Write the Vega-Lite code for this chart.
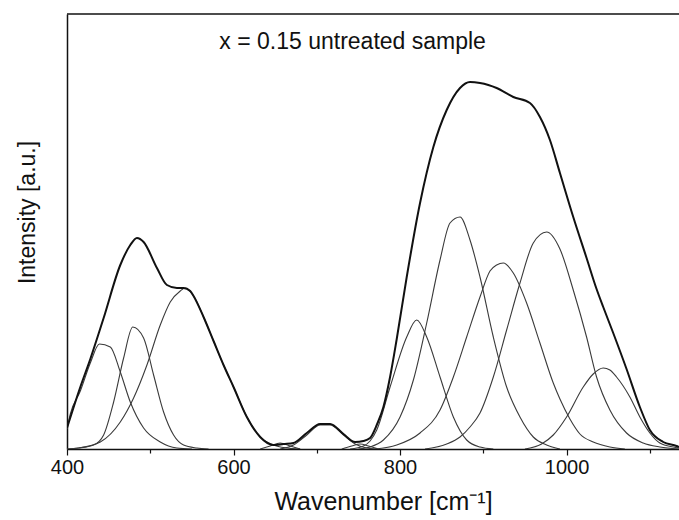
{
  "$schema": "https://vega.github.io/schema/vega-lite/v6.json",
  "autosize": "none",
  "width": 612,
  "height": 435,
  "padding": {"left": 67, "top": 14, "right": 0, "bottom": 71},
  "background": "white",
  "config": {
    "view": {"stroke": null},
    "font": "Liberation Sans"
  },
  "data": {
    "values": [
      {"s":"A","x":400,"y":20},{"s":"A","x":404,"y":35},{"s":"A","x":416,"y":58},{"s":"A","x":428,"y":86},{"s":"A","x":439,"y":105},{"s":"A","x":452,"y":102},{"s":"A","x":464,"y":77},{"s":"A","x":476,"y":47},{"s":"A","x":492,"y":21},{"s":"A","x":512,"y":7},{"s":"A","x":532,"y":1},{"s":"A","x":550,"y":0},
      {"s":"B","x":400,"y":0},{"s":"B","x":414,"y":1},{"s":"B","x":432,"y":4},{"s":"B","x":444,"y":14},{"s":"B","x":456,"y":47},{"s":"B","x":468,"y":91},{"s":"B","x":479,"y":122},{"s":"B","x":492,"y":111},{"s":"B","x":504,"y":74},{"s":"B","x":516,"y":37},{"s":"B","x":528,"y":14},{"s":"B","x":540,"y":4},{"s":"B","x":556,"y":1},{"s":"B","x":570,"y":0},
      {"s":"C","x":400,"y":0},{"s":"C","x":414,"y":1},{"s":"C","x":440,"y":7},{"s":"C","x":464,"y":27},{"s":"C","x":480,"y":51},{"s":"C","x":496,"y":84},{"s":"C","x":512,"y":124},{"s":"C","x":524,"y":147},{"s":"C","x":536,"y":158},{"s":"C","x":542,"y":161},{"s":"C","x":552,"y":153},{"s":"C","x":564,"y":132},{"s":"C","x":576,"y":108},{"s":"C","x":588,"y":84},{"s":"C","x":600,"y":62},{"s":"C","x":616,"y":32},{"s":"C","x":632,"y":12},{"s":"C","x":648,"y":4},{"s":"C","x":664,"y":1},{"s":"C","x":680,"y":0},
      {"s":"M1","x":632,"y":0},{"s":"M1","x":644,"y":3},{"s":"M1","x":656,"y":6},{"s":"M1","x":668,"y":3},{"s":"M1","x":680,"y":0},
      {"s":"M2","x":656,"y":0},{"s":"M2","x":672,"y":4},{"s":"M2","x":688,"y":14},{"s":"M2","x":704,"y":24},{"s":"M2","x":716,"y":24},{"s":"M2","x":732,"y":14},{"s":"M2","x":746,"y":5},{"s":"M2","x":760,"y":1},{"s":"M2","x":772,"y":0},
      {"s":"M3","x":730,"y":0},{"s":"M3","x":742,"y":3},{"s":"M3","x":752,"y":5},{"s":"M3","x":762,"y":3},{"s":"M3","x":774,"y":0},
      {"s":"D","x":740,"y":0},{"s":"D","x":756,"y":3},{"s":"D","x":764,"y":8},{"s":"D","x":772,"y":19},{"s":"D","x":788,"y":62},{"s":"D","x":808,"y":112},{"s":"D","x":820,"y":129},{"s":"D","x":832,"y":112},{"s":"D","x":848,"y":72},{"s":"D","x":864,"y":32},{"s":"D","x":880,"y":9},{"s":"D","x":896,"y":2},{"s":"D","x":912,"y":0},
      {"s":"E","x":750,"y":0},{"s":"E","x":764,"y":2},{"s":"E","x":780,"y":9},{"s":"E","x":800,"y":32},{"s":"E","x":816,"y":69},{"s":"E","x":832,"y":126},{"s":"E","x":848,"y":189},{"s":"E","x":860,"y":226},{"s":"E","x":872,"y":232},{"s":"E","x":884,"y":209},{"s":"E","x":896,"y":172},{"s":"E","x":912,"y":112},{"s":"E","x":928,"y":62},{"s":"E","x":944,"y":32},{"s":"E","x":960,"y":12},{"s":"E","x":976,"y":4},{"s":"E","x":992,"y":0},
      {"s":"F","x":770,"y":0},{"s":"F","x":796,"y":4},{"s":"F","x":824,"y":16},{"s":"F","x":848,"y":39},{"s":"F","x":864,"y":72},{"s":"F","x":880,"y":112},{"s":"F","x":896,"y":152},{"s":"F","x":908,"y":178},{"s":"F","x":916,"y":184},{"s":"F","x":924,"y":186},{"s":"F","x":936,"y":176},{"s":"F","x":952,"y":146},{"s":"F","x":968,"y":106},{"s":"F","x":984,"y":66},{"s":"F","x":992,"y":50},{"s":"F","x":1004,"y":30},{"s":"F","x":1016,"y":15},{"s":"F","x":1032,"y":7},{"s":"F","x":1052,"y":2},{"s":"F","x":1070,"y":0},
      {"s":"G","x":830,"y":0},{"s":"G","x":856,"y":5},{"s":"G","x":872,"y":12},{"s":"G","x":884,"y":22},{"s":"G","x":896,"y":36},{"s":"G","x":912,"y":72},{"s":"G","x":928,"y":119},{"s":"G","x":944,"y":166},{"s":"G","x":960,"y":206},{"s":"G","x":976,"y":217},{"s":"G","x":992,"y":200},{"s":"G","x":1008,"y":159},{"s":"G","x":1024,"y":112},{"s":"G","x":1036,"y":72},{"s":"G","x":1052,"y":39},{"s":"G","x":1072,"y":16},{"s":"G","x":1092,"y":6},{"s":"G","x":1112,"y":2},{"s":"G","x":1135,"y":0},
      {"s":"H","x":950,"y":0},{"s":"H","x":970,"y":5},{"s":"H","x":984,"y":14},{"s":"H","x":1000,"y":32},{"s":"H","x":1020,"y":62},{"s":"H","x":1032,"y":75},{"s":"H","x":1044,"y":81},{"s":"H","x":1052,"y":79},{"s":"H","x":1060,"y":72},{"s":"H","x":1076,"y":52},{"s":"H","x":1088,"y":32},{"s":"H","x":1100,"y":16},{"s":"H","x":1112,"y":6},{"s":"H","x":1128,"y":2},{"s":"H","x":1135,"y":1},
      {"s":"T","x":400,"y":21},{"s":"T","x":416,"y":62},{"s":"T","x":428,"y":90},{"s":"T","x":444,"y":131},{"s":"T","x":464,"y":184},{"s":"T","x":476,"y":204},{"s":"T","x":484,"y":211},{"s":"T","x":492,"y":207},{"s":"T","x":508,"y":181},{"s":"T","x":520,"y":164},{"s":"T","x":532,"y":161},{"s":"T","x":540,"y":161},{"s":"T","x":548,"y":158},{"s":"T","x":552,"y":153},{"s":"T","x":564,"y":132},{"s":"T","x":576,"y":108},{"s":"T","x":588,"y":84},{"s":"T","x":600,"y":62},{"s":"T","x":616,"y":32},{"s":"T","x":632,"y":12},{"s":"T","x":648,"y":4},{"s":"T","x":660,"y":5},{"s":"T","x":672,"y":6},{"s":"T","x":688,"y":16},{"s":"T","x":704,"y":25},{"s":"T","x":716,"y":25},{"s":"T","x":732,"y":15},{"s":"T","x":746,"y":7},{"s":"T","x":756,"y":8},{"s":"T","x":764,"y":11},{"s":"T","x":772,"y":24},{"s":"T","x":780,"y":42},{"s":"T","x":788,"y":72},{"s":"T","x":796,"y":110},{"s":"T","x":808,"y":172},{"s":"T","x":824,"y":246},{"s":"T","x":840,"y":302},{"s":"T","x":856,"y":339},{"s":"T","x":872,"y":361},{"s":"T","x":884,"y":367},{"s":"T","x":896,"y":366},{"s":"T","x":906,"y":364},{"s":"T","x":916,"y":361},{"s":"T","x":936,"y":352},{"s":"T","x":956,"y":346},{"s":"T","x":968,"y":332},{"s":"T","x":980,"y":309},{"s":"T","x":992,"y":276},{"s":"T","x":1008,"y":232},{"s":"T","x":1024,"y":191},{"s":"T","x":1036,"y":160},{"s":"T","x":1044,"y":142},{"s":"T","x":1056,"y":116},{"s":"T","x":1072,"y":80},{"s":"T","x":1088,"y":42},{"s":"T","x":1100,"y":19},{"s":"T","x":1116,"y":7},{"s":"T","x":1132,"y":3},{"s":"T","x":1135,"y":2}
    ]
  },
  "layer": [
    {
      "transform": [{"filter": "datum.s !== 'T'"}],
      "mark": {"type": "line", "interpolate": "monotone", "color": "#3a3a3a", "strokeWidth": 1.1, "clip": true},
      "encoding": {
        "x": {
          "field": "x", "type": "quantitative",
          "scale": {"domain": [400, 1135], "nice": false, "zero": false},
          "axis": {
            "values": [400, 500, 600, 700, 800, 900, 1000, 1100],
            "format": "d",
            "labelExpr": "datum.value % 200 === 0 ? datum.label : ''",
            "labelFlush": false,
            "labelOverlap": false,
            "tickSize": {"condition": {"test": "datum.value % 200 === 0", "value": 6}, "value": 4},
            "tickColor": "#111", "tickWidth": 1.2,
            "domainColor": "#111", "domainWidth": 1.5,
            "grid": false,
            "labelFont": "Liberation Sans", "labelFontSize": 20, "labelColor": "#111", "labelPadding": 2,
            "title": "Wavenumber [cm⁻¹]",
            "titleFont": "Liberation Sans", "titleFontSize": 25, "titleFontWeight": "normal", "titleColor": "#111",
            "titleX": 316, "titleY": 52, "titleBaseline": "middle", "titleAnchor": "middle"
          }
        },
        "y": {
          "field": "y", "type": "quantitative",
          "scale": {"domain": [0, 435], "nice": false},
          "axis": {
            "ticks": false, "labels": false, "grid": false,
            "domainColor": "#111", "domainWidth": 1.5,
            "title": "Intensity [a.u.]",
            "titleFont": "Liberation Sans", "titleFontSize": 23, "titleFontWeight": "normal", "titleColor": "#111",
            "titleX": -40, "titleY": 198, "titleAngle": -90, "titleBaseline": "middle", "titleAnchor": "middle"
          }
        },
        "detail": {"field": "s"}
      }
    },
    {
      "transform": [{"filter": "datum.s === 'T'"}],
      "mark": {"type": "line", "interpolate": "monotone", "color": "#111", "strokeWidth": 2, "clip": true},
      "encoding": {
        "x": {"field": "x", "type": "quantitative"},
        "y": {"field": "y", "type": "quantitative"}
      }
    },
    {
      "data": {"values": [{"top": 435}]},
      "mark": {"type": "rule", "color": "#111", "strokeWidth": 1.5},
      "encoding": {"y": {"field": "top", "type": "quantitative"}}
    },
    {
      "data": {"values": [{"lx": 743, "ly": 407, "label": "x = 0.15 untreated sample"}]},
      "mark": {"type": "text", "font": "Liberation Sans", "fontSize": 23, "color": "#111", "align": "center", "baseline": "middle"},
      "encoding": {
        "x": {"field": "lx", "type": "quantitative"},
        "y": {"field": "ly", "type": "quantitative"},
        "text": {"field": "label"}
      }
    }
  ]
}
